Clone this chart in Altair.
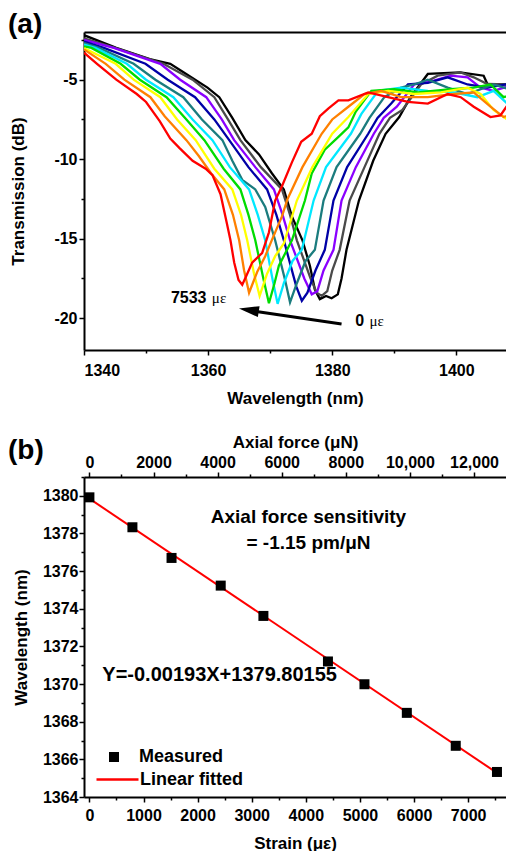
import altair as alt
import pandas as pd

FONT = "Liberation Sans"

# ---------------- Panel (a): transmission spectra ----------------
strain_levels = ["0", "795", "1518", "2427", "3216", "4409", "5084", "5867", "6771", "7533"]
curve_colors = ["#000000", "#4a4a4a", "#8a00ff", "#0000a6", "#1b7c7e",
                "#00e8ff", "#00dc00", "#ffff00", "#ff8000", "#ff0000"]

wl_0 = [1340, 1345.2, 1350.6, 1353.9, 1355.9, 1359.9, 1361.8, 1363.9, 1366.0, 1368.2, 1370.3, 1372.2,
        1373.5, 1375.2, 1376.4, 1377.2, 1378.0, 1379.0, 1379.9, 1380.9, 1381.5, 1382.3, 1384.3, 1386.6,
        1388.6, 1390.8, 1392.6, 1395.4, 1400.6, 1404.4, 1405.0, 1409.3]
tr_0 = [-2.2, -3.0, -3.7, -4.0, -4.5, -5.5, -6.1, -7.4, -8.8, -9.7, -10.9, -11.9,
        -13.6, -15.1, -16.7, -18.2, -18.8, -18.6, -18.75, -18.5, -17.5, -15.7, -12.6, -10.1,
        -8.4, -7.35, -6.1, -4.64, -4.54, -4.75, -5.27, -5.3]

wl_1 = [1340, 1345.0, 1352.8, 1357.5, 1361.0, 1363.2, 1365.2, 1368.5, 1371.9, 1373.2, 1374.3, 1376.5,
        1377.5, 1378.3, 1379.2, 1380.0, 1381.2, 1382.8, 1385.2, 1387.6, 1389.3, 1391.3, 1394.3, 1397.0,
        1400.7, 1402.8, 1405.0, 1409.3]
tr_1 = [-2.4, -3.0, -4.0, -5.0, -6.1, -7.5, -8.8, -10.5, -11.9, -13.5, -15.1, -17.5,
        -18.4, -18.6, -18.3, -17.0, -15.7, -12.6, -10.5, -8.4, -7.4, -6.9, -5.3, -4.75,
        -4.54, -4.85, -5.27, -5.3]

wl_2 = [1340, 1344.8, 1352.3, 1355.5, 1359.7, 1362.2, 1364.2, 1367.6, 1370.6, 1372.0, 1373.2, 1375.5,
        1376.7, 1377.6, 1378.6, 1380.2, 1381.5, 1383.8, 1386.7, 1388.3, 1390.4, 1393.2, 1396.4, 1399.1,
        1401.8, 1403.9, 1406.0, 1409.3]
tr_2 = [-2.5, -3.0, -4.0, -5.0, -6.1, -7.5, -8.8, -10.5, -11.9, -13.5, -15.1, -17.5,
        -18.5, -18.3, -17.0, -15.7, -12.6, -10.5, -8.4, -7.4, -6.7, -5.3, -5.06, -4.75,
        -4.85, -5.5, -5.7, -5.3]

wl_3 = [1340, 1343.2, 1349.9, 1353.5, 1357.9, 1361.0, 1363.4, 1366.5, 1369.5, 1371.0, 1372.2, 1374.2,
        1375.1, 1376.0, 1377.3, 1378.8, 1380.2, 1382.4, 1385.8, 1387.3, 1389.5, 1392.2, 1395.4, 1398.6,
        1401.8, 1405.0, 1409.3]
tr_3 = [-2.6, -3.0, -4.0, -5.0, -6.1, -7.5, -8.8, -10.5, -11.9, -13.5, -15.1, -18.0,
        -18.9, -18.4, -17.0, -15.7, -12.6, -10.5, -8.4, -7.4, -6.5, -5.3, -5.2, -4.85,
        -5.3, -5.5, -5.2]

wl_4 = [1340, 1342.4, 1348.0, 1351.5, 1356.0, 1359.0, 1362.3, 1363.9, 1365.5, 1367.6, 1369.2, 1370.8,
        1372.4, 1373.2, 1374.3, 1375.7, 1377.2, 1378.6, 1380.7, 1384.5, 1386.0, 1388.4, 1391.1, 1393.2,
        1395.4, 1398.6, 1401.8, 1406.0, 1409.3]
tr_4 = [-2.7, -3.0, -4.0, -5.0, -6.1, -7.5, -8.8, -10.1, -11.3, -11.9, -13.0, -15.1,
        -17.6, -19.0, -17.8, -16.4, -15.7, -12.6, -10.5, -8.4, -7.4, -6.1, -5.5, -5.3,
        -5.0, -5.5, -5.9, -5.3, -5.7]

wl_5 = [1340, 1341.8, 1346.9, 1350.0, 1354.4, 1357.5, 1360.7, 1363.5, 1366.6, 1368.0, 1369.2, 1370.4,
        1371.2, 1372.2, 1373.6, 1375.1, 1377.0, 1379.0, 1383.0, 1384.7, 1387.4, 1391.1, 1395.4, 1399.6,
        1403.4, 1406.0, 1408.2, 1409.3]
tr_5 = [-2.8, -3.0, -4.0, -5.0, -6.1, -7.5, -8.8, -10.5, -11.9, -13.5, -15.1, -17.6,
        -19.1, -17.8, -16.4, -15.7, -12.6, -10.5, -8.4, -7.15, -5.7, -5.5, -5.7, -5.8,
        -6.1, -5.7, -6.5, -6.3]

wl_6 = [1340, 1341.2, 1345.9, 1349.0, 1353.3, 1356.5, 1359.4, 1362.5, 1365.2, 1366.5, 1367.6, 1368.9,
        1369.8, 1370.7, 1371.4, 1373.5, 1375.6, 1376.7, 1378.8, 1381.0, 1382.6, 1383.8, 1386.3, 1390.0,
        1393.8, 1399.1, 1402.8, 1405.5, 1407.6, 1409.3]
tr_6 = [-2.9, -3.0, -4.0, -5.0, -6.1, -7.5, -8.8, -10.6, -11.9, -13.5, -15.1, -17.5,
        -19.06, -17.8, -16.7, -15.1, -12.6, -10.9, -9.4, -8.6, -8.0, -7.0, -5.7, -5.6,
        -5.8, -5.6, -5.5, -5.3, -6.1, -5.9]

wl_7 = [1340, 1342.0, 1345.1, 1348.0, 1352.3, 1355.0, 1358.0, 1361.0, 1363.9, 1365.3, 1366.3, 1367.4,
        1368.3, 1369.5, 1370.8, 1372.2, 1374.3, 1376.8, 1380.0, 1382.6, 1385.8, 1389.0, 1393.2, 1397.5,
        1401.8, 1403.9, 1406.0, 1408.2, 1409.3]
tr_7 = [-3.0, -3.4, -4.0, -5.0, -6.1, -7.5, -8.8, -10.6, -11.9, -13.5, -15.1, -17.2,
        -18.6, -17.2, -16.1, -15.3, -12.6, -10.5, -8.4, -7.35, -5.9, -5.7, -5.9, -5.8,
        -5.5, -5.9, -6.9, -7.5, -7.2]

wl_8 = [1340, 1343.5, 1346.5, 1350.7, 1353.0, 1356.5, 1358.5, 1360.5, 1362.6, 1364.0, 1365.0, 1365.8,
        1366.6, 1367.9, 1369.2, 1370.3, 1371.9, 1372.8, 1375.2, 1378.3, 1380.0, 1382.6, 1385.2, 1387.9,
        1391.1, 1395.4, 1399.6, 1402.8, 1405.5, 1407.6, 1409.3]
tr_8 = [-3.1, -4.0, -5.0, -6.1, -7.3, -8.8, -9.8, -10.9, -11.9, -13.5, -15.1, -17.0,
        -18.4, -17.1, -16.1, -15.06, -13.6, -12.5, -10.5, -8.4, -7.5, -6.7, -5.9, -5.7,
        -6.1, -6.1, -5.9, -5.8, -6.7, -7.35, -7.1]

wl_9 = [1340, 1342.1, 1345.2, 1348.5, 1350.0, 1352.2, 1353.9, 1355.4, 1357.5, 1359.6, 1360.7, 1362.0,
        1363.0, 1363.6, 1364.2, 1364.9, 1365.5, 1366.2, 1367.1, 1368.7, 1369.8, 1370.8, 1371.9, 1373.5,
        1375.0, 1376.7, 1378.0, 1379.4, 1381.0, 1382.6, 1385.8, 1389.0, 1392.2, 1395.4, 1398.6, 1400.7,
        1402.8, 1405.5, 1407.1, 1409.3]
tr_9 = [-3.3, -4.0, -5.0, -5.9, -6.4, -7.6, -8.7, -9.3, -10.1, -10.6, -11.0, -12.2,
        -14.0, -15.1, -16.5, -17.6, -17.9, -17.3, -16.5, -15.9, -14.6, -12.6, -11.7, -10.2,
        -8.9, -8.4, -7.3, -6.8, -6.3, -6.3, -5.8, -6.1, -6.4, -6.5, -5.9, -6.1,
        -6.7, -7.35, -7.25, -6.0]

curves_wl = [wl_0, wl_1, wl_2, wl_3, wl_4, wl_5, wl_6, wl_7, wl_8, wl_9]
curves_tr = [tr_0, tr_1, tr_2, tr_3, tr_4, tr_5, tr_6, tr_7, tr_8, tr_9]

a_x_ticks = [1340, 1350, 1360, 1370, 1380, 1390, 1400]
a_y_ticks = [-2.5, -5, -7.5, -10, -12.5, -15, -17.5, -20]

# annotation texts and arrow (panel a)
num_text = ["7533", "0"]
num_wl = [1354.0, 1383.7]
num_tr = [-18.7, -20.2]
mu_text = ["\u03bc\u03b5", "\u03bc\u03b5"]
mu_wl = [1360.6, 1386.0]
mu_tr = [-18.7, -20.2]
arrow_wl = [1381.5, 1367.5]
arrow_tr = [-20.37, -19.56]
head_wl = [1366.56]
head_tr = [-19.49]

panel_labels = ["(a)", "(b)"]

# ---------------- Panel (b): wavelength vs strain ----------------
strain = [0, 795, 1518, 2427, 3216, 4409, 5084, 5867, 6771, 7533]
peak_wl = [1379.92, 1378.33, 1376.70, 1375.23, 1373.62, 1371.20, 1369.99, 1368.47, 1366.72, 1365.33]
fit_strain = [0, 7533]
fit_wl = [1379.85, 1365.28]

b_x_ticks = [0, 500, 1000, 1500, 2000, 2500, 3000, 3500, 4000, 4500, 5000, 5500, 6000, 6500, 7000, 7500]
b_y_ticks = [1364, 1365, 1366, 1367, 1368, 1369, 1370, 1371, 1372, 1373, 1374, 1375,
             1376, 1377, 1378, 1379, 1380, 1381]
force_ticks = [0, 1000, 2000, 3000, 4000, 5000, 6000, 7000, 8000, 9000, 10000, 11000, 12000]
strain_domain = [-100, 7700]
force_domain = [-169, 12998]

sens_text = ["Axial force sensitivity", "= -1.15 pm/\u03bcN"]
sens_x = [4049, 4049]
sens_y = [1378.86, 1377.5]
eq_text = ["Y=-0.00193X+1379.80155"]
eq_x = [2407]
eq_y = [1370.5]

W = 422

# ---------------- build panel (a) ----------------
xs_a = alt.Scale(domain=[1340, 1408], nice=False, zero=False)
ys_a = alt.Scale(domain=[-22, -2], nice=False, zero=False)

ax_a_x = alt.Axis(values=a_x_ticks, format="d", labelOverlap=False,
                  labelExpr="datum.value % 20 === 0 ? datum.label : ''",
                  tickSize={"condition": {"test": "datum.value % 20 === 0", "value": 5}, "value": 3},
                  labelPadding=7, titlePadding=12, title="Wavelength (nm)")
ax_a_y = alt.Axis(values=a_y_ticks, labelOverlap=False,
                  labelExpr="datum.value % 5 === 0 ? '-' + abs(datum.value) : ''",
                  tickSize={"condition": {"test": "datum.value % 5 === 0", "value": 5}, "value": 3},
                  labelPadding=2, titlePadding=26, title="Transmission (dB)")

X_a = alt.X("wl:Q", scale=xs_a, axis=ax_a_x)
Y_a = alt.Y("tr:Q", scale=ys_a, axis=ax_a_y)

a_layers = []
for i in range(len(curves_wl)):
    df = pd.DataFrame({"wl": curves_wl[i], "tr": curves_tr[i], "s": strain_levels[i]})
    a_layers.append(
        alt.Chart(df).mark_line(color=curve_colors[i], strokeWidth=2.3, clip=True)
        .encode(x=X_a, y=Y_a, detail="s:N")
    )

arrow = alt.Chart(pd.DataFrame({"wl": arrow_wl, "tr": arrow_tr})).mark_line(
    color="black", strokeWidth=3).encode(x=X_a, y=Y_a)
head = alt.Chart(pd.DataFrame({"wl": head_wl, "tr": head_tr})).mark_point(
    shape="M-1,0L1,-0.55L1,0.55Z", filled=True, color="black", opacity=1, size=400, angle=9
).encode(x=X_a, y=Y_a)
nums = alt.Chart(pd.DataFrame({"wl": num_wl, "tr": num_tr, "t": num_text})).mark_text(
    font=FONT, fontWeight="bold", fontSize=16, align="left", baseline="middle", color="black"
).encode(x=X_a, y=Y_a, text="t:N")
mus = alt.Chart(pd.DataFrame({"wl": mu_wl, "tr": mu_tr, "t": mu_text})).mark_text(
    font="Liberation Serif", fontSize=15, align="left", baseline="middle", color="black"
).encode(x=X_a, y=Y_a, text="t:N")
lab_a = alt.Chart(pd.DataFrame({"t": [panel_labels[0]]})).mark_text(
    font=FONT, fontWeight="bold", fontSize=28, align="left", baseline="top", color="black"
).encode(x=alt.value(-76), y=alt.value(-21), text="t:N")

inner_a = alt.layer(*a_layers, arrow, head, nums, mus, lab_a)

top_a = alt.Chart(pd.DataFrame({"wl": [1340]})).mark_point(opacity=0).encode(
    x=alt.X("wl:Q", scale=alt.Scale(domain=[1340, 1408], nice=False, zero=False),
            axis=alt.Axis(orient="top", ticks=False, labels=False, title=None, domain=True)),
    y=alt.value(0),
)
chart_a = alt.layer(inner_a, top_a).resolve_scale(x="independent").properties(width=W, height=318)

# ---------------- build panel (b) ----------------
xs_b = alt.Scale(domain=strain_domain, nice=False, zero=False)
ys_b = alt.Scale(domain=[1364, 1381], nice=False, zero=False)
ax_b_x = alt.Axis(values=b_x_ticks, format="d", labelOverlap=False,
                  labelExpr="datum.value % 1000 === 0 ? datum.label : ''",
                  tickSize={"condition": {"test": "datum.value % 1000 === 0", "value": 5}, "value": 3},
                  labelPadding=5, titlePadding=12, title="Strain (\u03bc\u03b5)")
ax_b_y = alt.Axis(values=b_y_ticks, labelOverlap=False,
                  labelExpr="datum.value % 2 === 0 ? '' + datum.value : ''",
                  tickSize={"condition": {"test": "datum.value % 2 === 0", "value": 5}, "value": 3},
                  labelPadding=1, titlePadding=12, title="Wavelength (nm)")
X_b = alt.X("strain:Q", scale=xs_b, axis=ax_b_x)
Y_b = alt.Y("wl:Q", scale=ys_b, axis=ax_b_y)

fit = alt.Chart(pd.DataFrame({"strain": fit_strain, "wl": fit_wl, "f": ["Linear fitted"] * 2})).mark_line(
    strokeWidth=2
).encode(
    x=X_b, y=Y_b,
    color=alt.Color("f:N", scale=alt.Scale(domain=["Linear fitted"], range=["#ff0000"]),
                    legend=alt.Legend(orient="none", legendX=11, legendY=280, title=None,
                                      symbolType="stroke", symbolSize=1764, symbolStrokeWidth=2.5,
                                      labelFont=FONT, labelFontWeight="bold", labelFontSize=18,
                                      labelColor="black", labelOffset=0, padding=0)),
)
pts = alt.Chart(pd.DataFrame({"strain": strain, "wl": peak_wl, "m": ["Measured"] * len(strain)})).mark_point(
    filled=True, color="black", opacity=1, size=100
).encode(
    x=X_b, y=Y_b,
    shape=alt.Shape("m:N", scale=alt.Scale(domain=["Measured"], range=["square"]),
                    legend=alt.Legend(orient="none", legendX=21, legendY=271, title=None,
                                      symbolSize=100, symbolFillColor="black", symbolStrokeColor="black",
                                      labelFont=FONT, labelFontWeight="bold", labelFontSize=18,
                                      labelColor="black", labelOffset=16, padding=0)),
)
sens = alt.Chart(pd.DataFrame({"strain": sens_x, "wl": sens_y, "t": sens_text})).mark_text(
    font=FONT, fontWeight="bold", fontSize=19, align="center", baseline="middle", color="black"
).encode(x=X_b, y=Y_b, text="t:N")
eq = alt.Chart(pd.DataFrame({"strain": eq_x, "wl": eq_y, "t": eq_text})).mark_text(
    font=FONT, fontWeight="bold", fontSize=20, align="center", baseline="middle", color="black"
).encode(x=X_b, y=Y_b, text="t:N")
lab_b = alt.Chart(pd.DataFrame({"t": [panel_labels[1]]})).mark_text(
    font=FONT, fontWeight="bold", fontSize=28, align="left", baseline="top", color="black"
).encode(x=alt.value(-76), y=alt.value(-40), text="t:N")

inner_b = alt.layer(fit, pts, sens, eq, lab_b)

top_b = alt.Chart(pd.DataFrame({"force": force_ticks})).mark_point(opacity=0).encode(
    x=alt.X("force:Q", scale=alt.Scale(domain=force_domain, nice=False, zero=False),
            axis=alt.Axis(orient="top", values=force_ticks, labelOverlap=False,
                          labelExpr="datum.value % 2000 !== 0 ? '' : (datum.value >= 10000 ? format(datum.value, ',') : format(datum.value, 'd'))",
                          tickSize={"condition": {"test": "datum.value % 2000 === 0", "value": 5}, "value": 3},
                          labelPadding=2, titlePadding=3, title="Axial force (\u03bcN)")),
    y=alt.value(0),
)
chart_b = alt.layer(inner_b, top_b).resolve_scale(x="independent").properties(width=W, height=320)

chart = alt.vconcat(chart_a, chart_b, spacing=27).resolve_legend(
    color="independent", shape="independent"
).resolve_scale(color="independent", shape="independent").properties(
    padding={"left": 0, "top": 3, "right": 0, "bottom": 0}
).configure_view(
    stroke=None
).configure_axis(
    grid=False, labelFont=FONT, labelFontWeight="bold", labelFontSize=16, labelColor="black",
    titleFont=FONT, titleFontWeight="bold", titleFontSize=17, titleColor="black",
    domainColor="black", domainWidth=2, tickColor="black", tickWidth=1.5,
)

chart.save("out.html", embed_options={"renderer": "svg", "actions": False})
